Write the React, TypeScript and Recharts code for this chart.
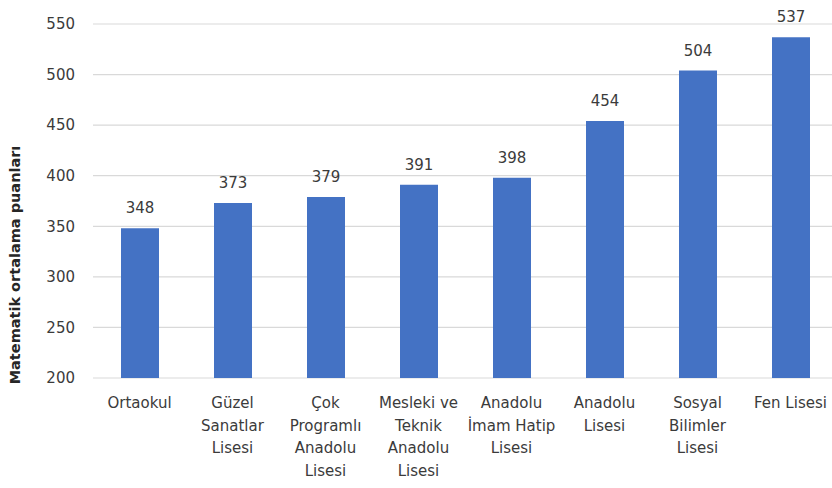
import React from "react";
import { BarChart, Bar, XAxis, YAxis, CartesianGrid, LabelList } from "recharts";

const categories = [
  "Ortaokul",
  "Güzel Sanatlar Lisesi",
  "Çok Programlı Anadolu Lisesi",
  "Mesleki ve Teknik Anadolu Lisesi",
  "Anadolu İmam Hatip Lisesi",
  "Anadolu Lisesi",
  "Sosyal Bilimler Lisesi",
  "Fen Lisesi",
];

const tickLines = [
  ["Ortaokul"],
  ["Güzel", "Sanatlar", "Lisesi"],
  ["Çok", "Programlı", "Anadolu", "Lisesi"],
  ["Mesleki ve", "Teknik", "Anadolu", "Lisesi"],
  ["Anadolu", "İmam Hatip", "Lisesi"],
  ["Anadolu", "Lisesi"],
  ["Sosyal", "Bilimler", "Lisesi"],
  ["Fen Lisesi"],
];

const scores = [348, 373, 379, 391, 398, 454, 504, 537];

const yTicks = [200, 250, 300, 350, 400, 450, 500, 550];

const yTitle = "Matematik ortalama puanları";

const data = categories.map((c, i) => ({ name: c, value: scores[i] }));

const FONT = "'DejaVu Sans', sans-serif";
const TEXT = "#3b3b3b";

const XTick = (props: any) => {
  const { x, y, index } = props;
  const lines = tickLines[index] || [String(props.payload?.value ?? "")];
  return (
    <text x={x} y={y} textAnchor="middle" fontFamily={FONT} fontSize={15} fill={TEXT}>
      {lines.map((l: string, i: number) => (
        <tspan key={i} x={x} y={y + 30 + i * 22.5}>
          {l}
        </tspan>
      ))}
    </text>
  );
};

export default function App() {
  return (
    <div style={{ position: "absolute", left: 0, top: 0, width: 832, height: 488, overflow: "hidden", background: "#fff" }}>
      <BarChart
        width={837}
        height={488}
        data={data}
        margin={{ top: 24, right: 0, left: 0, bottom: 0 }}
      >
        <CartesianGrid vertical={false} stroke="#d9d9d9" strokeWidth={1.2} />
        <XAxis
          dataKey="name"
          axisLine={false}
          tickLine={false}
          tickSize={0}
          tickMargin={0}
          height={110}
          interval={0}
          tick={<XTick />}
        />
        <YAxis
          type="number"
          domain={[200, 550]}
          ticks={yTicks}
          interval={0}
          width={93}
          axisLine={false}
          tickLine={false}
          tickSize={0}
          tickMargin={18}
          tick={{ fontFamily: FONT, fontSize: 15, fill: TEXT }}
          label={{
            content: () => (
              <text
                x={15}
                y={265}
                transform="rotate(-90, 15, 265)"
                textAnchor="middle"
                dominantBaseline="central"
                fontFamily={FONT}
                fontWeight={700}
                fontSize={14.5}
                fill="#262626"
              >
                {yTitle}
              </text>
            ),
          }}
        />
        <Bar dataKey="value" fill="#4472C4" barSize={38} isAnimationActive={false}>
          <LabelList
            dataKey="value"
            position="top"
            offset={15}
            fontFamily={FONT}
            fontSize={15}
            fill={TEXT}
          />
        </Bar>
      </BarChart>
    </div>
  );
}
